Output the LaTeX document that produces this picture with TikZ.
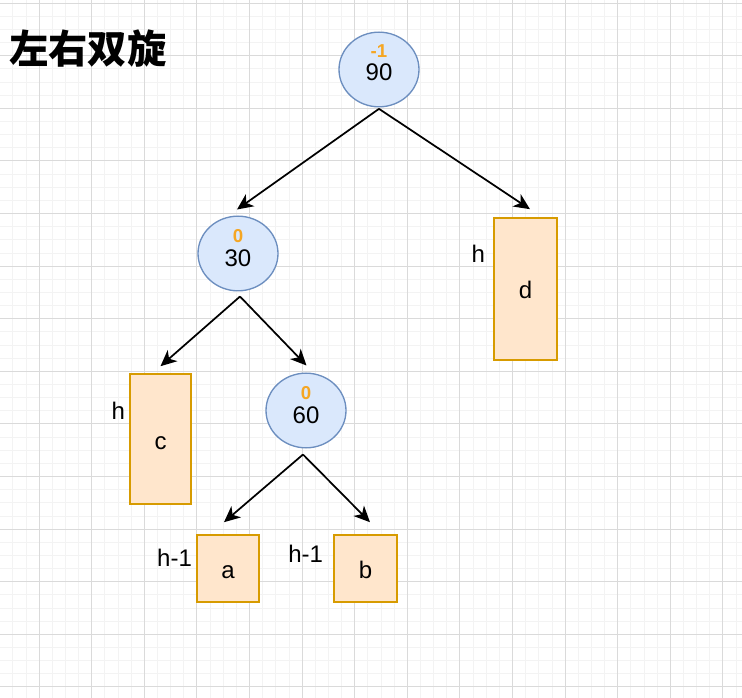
\documentclass[tikz,border=0pt]{standalone}
\usepackage{fontspec}
\setmainfont{Liberation Sans}
\newfontfamily\cjkfont{Noto Sans CJK SC}
\definecolor{nodeblue}{RGB}{218,232,252}
\definecolor{edgeblue}{RGB}{108,142,191}
\definecolor{boxfill}{RGB}{255,230,204}
\definecolor{boxedge}{RGB}{215,155,0}
\definecolor{balance}{RGB}{245,166,35}
\definecolor{gridminor}{RGB}{243,243,243}
\definecolor{gridmajor}{RGB}{218,218,218}
\usetikzlibrary{arrows.meta,shapes.geometric}
\tikzset{
  avl/.style={ellipse, draw=edgeblue, line width=1pt, fill=nodeblue,
              minimum width=60pt, minimum height=56pt, inner sep=0pt},
  subtree/.style={draw=boxedge, line width=1.2pt, fill=boxfill, inner sep=0pt,
              font=\fontsize{18}{20}\selectfont, text height=15pt, text depth=0pt},
  keytext/.style={font=\fontsize{18}{20}\selectfont, inner sep=0pt, anchor=base},
  baltext/.style={font=\fontsize{14}{16}\selectfont\bfseries, text=balance, inner sep=0pt, anchor=base},
  htext/.style={font=\fontsize{18}{20}\selectfont, inner sep=0pt, anchor=base east},
  flow/.style={-{Stealth[length=12pt,width=11pt,inset=3.5pt]}, line width=1.3pt, black},
}

\begin{document}
\begin{tikzpicture}[x=0.75pt,y=-0.75pt]
    \useasboundingbox (0,0) rectangle (742,698);
    % background grid
    \foreach \i in {-2,...,54}
      \draw[gridminor,line width=0.5pt] ({39+13.15*\i},0) -- ({39+13.15*\i},698);
    \foreach \i in {0,...,53}
      \draw[gridminor,line width=0.5pt] (0,{3+13.15*\i}) -- (742,{3+13.15*\i});
    \foreach \i in {0,...,13}
      \draw[gridmajor,line width=0.6pt] ({39+52.6*\i},0) -- ({39+52.6*\i},698);
    \foreach \i in {0,...,13}
      \draw[gridmajor,line width=0.6pt] (0,{3+52.6*\i}) -- (742,{3+52.6*\i});

    \node[font=\cjkfont\bfseries\fontsize{29.5}{32}\selectfont, inner sep=0pt, anchor=west] (title) at (9,49) {左右双旋};

    % tree nodes
    \node[avl] (n90) at (379,69.5) {};
    \node[baltext] (b90) at ([yshift=9pt]n90.center) {-1};
    \node[keytext] (k90) at ([yshift=-8.6pt]n90.center) {90};

    \node[avl] (n30) at (238,253.5) {};
    \node[baltext] (b30) at ([yshift=8.2pt]n30.center) {0};
    \node[keytext] (k30) at ([yshift=-9.8pt]n30.center) {30};

    \node[avl] (n60) at (306,410.5) {};
    \node[baltext] (b60) at ([yshift=8.2pt]n60.center) {0};
    \node[keytext] (k60) at ([yshift=-9.8pt]n60.center) {60};

    % subtrees
    \node[subtree, minimum width=47.25pt, minimum height=106.5pt] (nd) at (525.5,289) {d};
    \node[subtree, minimum width=45.75pt, minimum height=97.5pt] (nc) at (160.5,439) {c};
    \node[subtree, minimum width=46.5pt, minimum height=50.25pt] (na) at (228,568.5) {a};
    \node[subtree, minimum width=47.25pt, minimum height=50.25pt] (nb) at (365.5,568.5) {b};

    \node[htext] (hd) at ([shift={(-8,45)}]nd.north west) {h};
    \node[htext] (hc) at ([shift={(-4,46)}]nc.north west) {h};
    \node[htext] (ha) at ([shift={(-4,32)}]na.north west) {h-1};
    \node[htext] (hb) at ([shift={(-10,28)}]nb.north west) {h-1};

    % edges
    \draw[flow] ([yshift=-1]n90.south) -- ([shift={(-1,-6)}]n30.north);
    \draw[flow] ([yshift=-1]n90.south) -- ([shift={(4.5,-8)}]nd.north);
    \draw[flow] ([shift={(2,5)}]n30.south) -- ([shift={(0,-7)}]nc.north);
    \draw[flow] ([shift={(2,5)}]n30.south) -- ([shift={(0.5,-7)}]n60.north);
    \draw[flow] ([shift={(-3,6)}]n60.south) -- ([shift={(-4,-12)}]na.north);
    \draw[flow] ([shift={(-3,6)}]n60.south) -- ([shift={(4.5,-12)}]nb.north);
\end{tikzpicture}
\end{document}
